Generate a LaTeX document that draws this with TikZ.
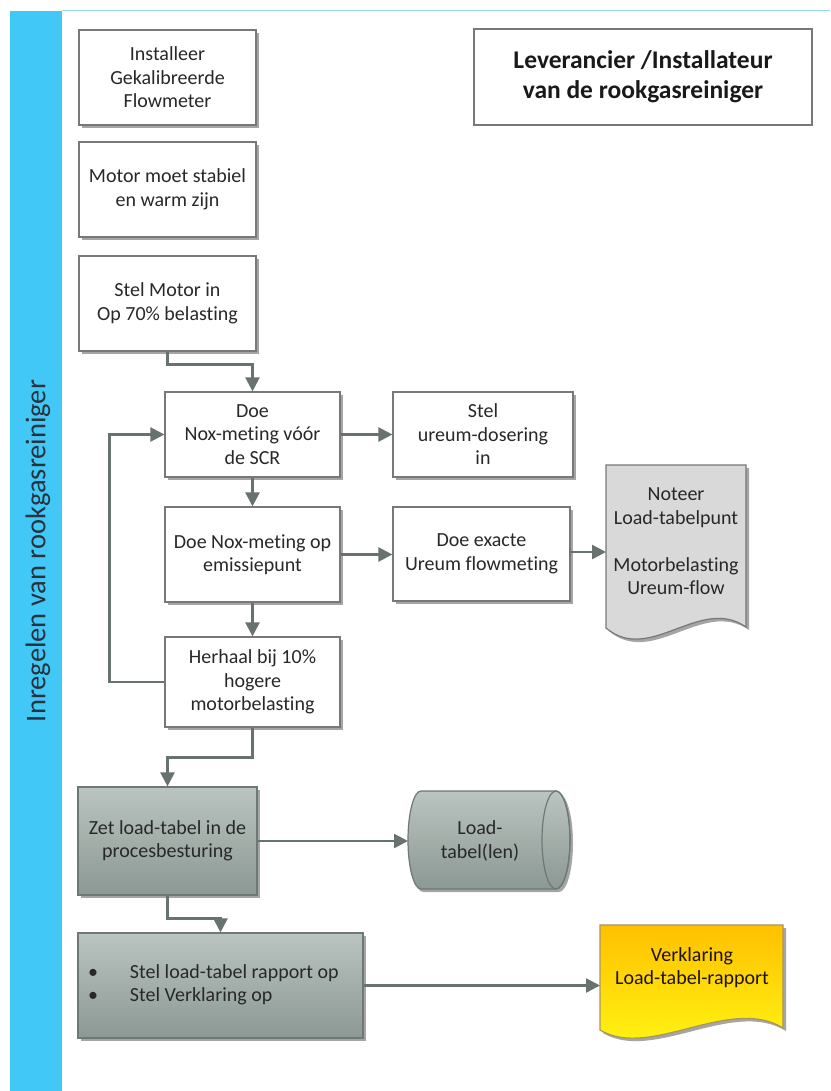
\documentclass[tikz,border=0pt]{standalone}
\usepackage{fontspec}
\setmainfont{Carlito}[Ligatures=NoCommon]
\usetikzlibrary{arrows.meta,shadows,calc}
\definecolor{barblue}{RGB}{66,200,246}
\definecolor{topline}{RGB}{150,215,230}
\definecolor{boxborder}{RGB}{120,120,120}
\definecolor{shadowgray}{RGB}{165,165,165}
\definecolor{arrowgray}{RGB}{104,114,110}
\definecolor{textdark}{RGB}{40,40,40}
\definecolor{darktop}{RGB}{186,196,192}
\definecolor{darkbot}{RGB}{140,152,147}
\definecolor{darkborder}{RGB}{110,120,116}
\definecolor{notefill}{RGB}{217,217,217}
\definecolor{yellowtop}{RGB}{255,192,0}
\definecolor{yellowbot}{RGB}{255,250,20}
\definecolor{yellowborder}{RGB}{170,150,90}
\definecolor{lanetext}{RGB}{40,50,62}
\tikzset{
  procbox/.style={draw=boxborder, fill=white, line width=1.2pt, align=center,
    inner sep=2pt, font=\fontsize{20}{23.5}\selectfont, text=textdark,
    drop shadow={shadow xshift=3pt, shadow yshift=-3pt, fill=shadowgray, opacity=1}},
  darkbox/.style={procbox, draw=darkborder, top color=darktop, bottom color=darkbot},
  arr/.style={draw=arrowgray, line width=2.4pt, -{Triangle[length=14pt,width=14pt]}},
  labeltext/.style={align=center, font=\fontsize{20}{23.5}\selectfont, text=textdark, inner sep=0pt},
}
\begin{document}
\begin{tikzpicture}[x=1pt,y=-1pt]
\useasboundingbox (0,0) rectangle (830,1091);
\fill[white] (0,0) rectangle (830,1091);
\fill[barblue] (10,11) rectangle (62,1091);
\draw[topline, line width=1pt] (62,11) -- (830,11);
\node[rotate=90, font=\fontsize{28.5}{32}\selectfont, text=lanetext] (lane) at (38,551) {Inregelen van rookgasreiniger};

% header box
\node[draw=boxborder, line width=1.2pt, fill=white, minimum width=338pt, minimum height=96pt,
  align=center, font=\bfseries\fontsize{25.5}{30}\selectfont, text=black!90] (lev) at (643,77)
  {Leverancier /Installateur\\van de rookgasreiniger};

% process boxes
\node[procbox, minimum width=177pt, minimum height=95pt] (b1) at (167.5,77.5) {Installeer\\Gekalibreerde\\Flowmeter};
\node[procbox, minimum width=177pt, minimum height=95pt] (b2) at (167.5,189.5) {Motor moet stabiel\\en warm zijn};
\node[procbox, minimum width=177pt, minimum height=95pt] (b3) at (167.5,303.5) {Stel Motor in\\Op 70\% belasting};
\node[procbox, minimum width=175pt, minimum height=85pt] (b4) at (252.5,434.5) {Doe\\Nox-meting vóór\\de SCR};
\node[procbox, minimum width=180pt, minimum height=85pt] (b5) at (483,434.5) {Stel\\ureum-dosering\\in};
\node[procbox, minimum width=175pt, minimum height=95pt] (b6) at (252.5,554.5) {Doe Nox-meting op\\emissiepunt};
\node[procbox, minimum width=177pt, minimum height=94pt] (b7) at (481.5,554) {Doe exacte\\Ureum flowmeting};
\node[procbox, minimum width=175pt, minimum height=90pt] (b8) at (252.5,682) {Herhaal bij 10\%\\hogere\\motorbelasting};
\node[darkbox, minimum width=179pt, minimum height=108pt] (b9) at (167.5,841) {Zet load-tabel in de\\procesbesturing};
\node[darkbox, minimum width=285pt, minimum height=105pt, align=left, text width=265pt, inner xsep=10pt] (b10) at (220.5,985.5)
  {\spaceskip=0pt\xspaceskip=0pt\begin{tabular}{@{}p{42pt}@{}l@{}}\textbullet & Stel load-tabel rapport op\\ \textbullet & Stel Verklaring op\end{tabular}};

% Noteer document
\fill[shadowgray] (609,468) -- (749,468) -- (749,630) .. controls (703,598) and (653,668) .. (609,631) -- cycle;
\draw[boxborder, fill=notefill, line width=1.2pt] (606,465) -- (746,465) -- (746,627)
  .. controls (700,595) and (650,665) .. (606,628) -- cycle;
\node[labeltext] (note) at (676,541.5) {Noteer\\Load-tabelpunt\\[23.5pt]Motorbelasting\\Ureum-flow};
\coordinate (noteW) at (606,552);

% cylinder
\coordinate (cylW) at (408,840);
\fill[shadowgray] (423,794) -- (559,794) arc[start angle=90, end angle=-90, x radius=14, y radius=-49] -- (423,892)
  arc[start angle=270, end angle=90, x radius=13, y radius=-49] -- cycle;
\shade[top color=darktop, bottom color=darkbot, draw=darkborder, line width=1.2pt]
  (421,791) -- (556,791) arc[start angle=90, end angle=-90, x radius=14, y radius=-49] -- (421,889)
  arc[start angle=270, end angle=90, x radius=13, y radius=-49] -- cycle;
\draw[darkborder, line width=1.2pt] (556,840) ellipse[x radius=14, y radius=49];
\node[labeltext] (cyl) at (480,841) {Load-\\tabel(len)};

% Verklaring document
\fill[shadowgray] (603,928) -- (786,928) -- (786,1031) .. controls (733,998) and (653,1063) .. (603,1033) -- cycle;
\shade[top color=yellowtop, bottom color=yellowbot] (600,925) -- (783,925) -- (783,1028)
  .. controls (730,995) and (650,1060) .. (600,1030) -- cycle;
\draw[yellowborder, line width=1.2pt] (600,925) -- (783,925) -- (783,1028)
  .. controls (730,995) and (650,1060) .. (600,1030) -- cycle;
\node[labeltext, text=black!85!brown] (verk) at (692,967.5) {Verklaring\\Load-tabel-rapport};
\coordinate (verkW) at (600,985);

% connectors
\draw[arr] (b3.south) -- ++(0,13) -| (b4.north);
\draw[arr] (b4.east) -- (b5.west);
\draw[arr] (b4.south) -- (b6.north);
\draw[arr] (b6.east) -- (b6.east -| b7.west);
\draw[arr] (b7.east |- noteW) -- (noteW);
\draw[arr] (b6.south) -- (b8.north);
\draw[arr] (b8.west) -- ++(-55,0) |- (b4.west);
\draw[arr] (b8.south) -- ++(0,30) -| (b9.north);
\draw[arr] (b9.east) -- (b9.east -| cylW);
\draw[arr] (b9.south) -- ++(0,23) -| (b10.north);
\draw[arr] (b10.east) -- (b10.east -| verkW);
\end{tikzpicture}
\end{document}
